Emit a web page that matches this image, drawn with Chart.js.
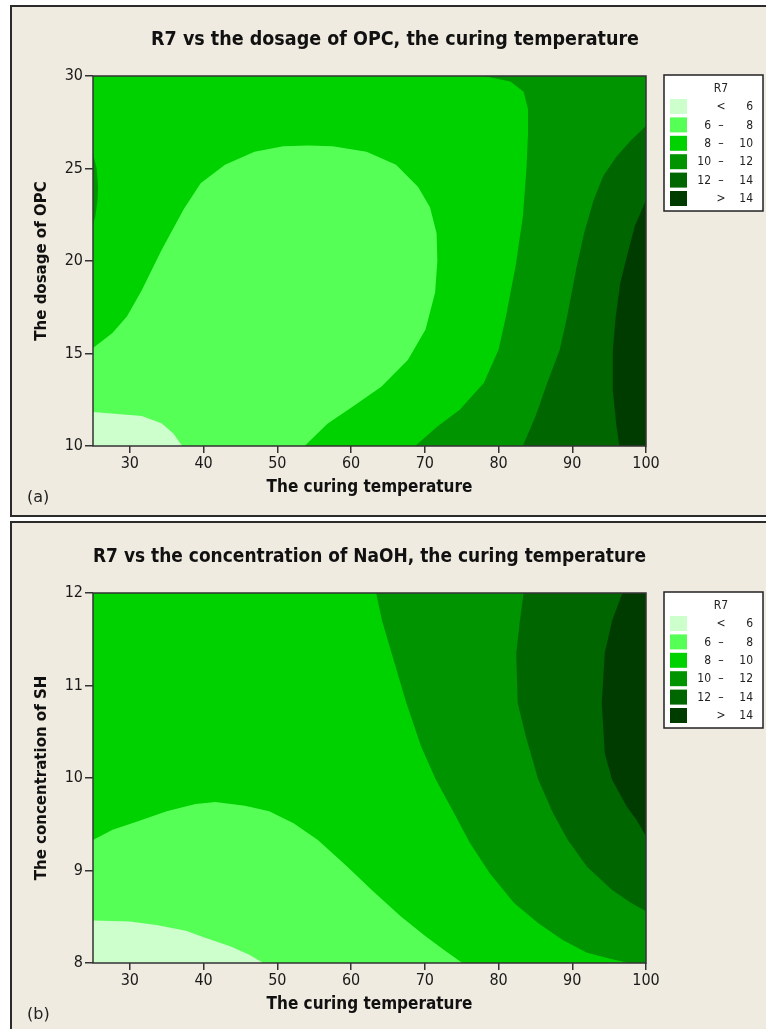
<!DOCTYPE html>
<html>
<head>
<meta charset="utf-8">
<script src="https://cdn.jsdelivr.net/npm/chart.js@4.4.0/dist/chart.umd.min.js"></script>
<style>
  html, body { margin: 0; padding: 0; background: #fff; width: 766px; height: 1029px; overflow: hidden; }
  .panel { position: absolute; left: 10px; width: 800px; background: #f0ebe0; border: 2px solid #2b2b2b; box-sizing: border-box; }
  #panelA { top: 5px; height: 512px; }
  #panelB { top: 521px; height: 530px; }
  canvas { position: absolute; left: 0; }
</style>
</head>
<body>
<div class="panel" id="panelA"></div>
<div class="panel" id="panelB"></div>
<canvas id="chartA" width="790" height="517" style="top:0"></canvas>
<canvas id="chartB" width="766" height="517" style="top:517px"></canvas>
<script>
// axes
const xTicks = [30, 40, 50, 60, 70, 80, 90, 100];
const xRange = [25, 100];
const yTicksA = [10, 15, 20, 25, 30];
const yRangeA = [10, 30];
const yTicksB = [8, 9, 10, 11, 12];
const yRangeB = [8, 12];

// legend levels (R7)
const levelColors = ['#ccffcc', '#55ff55', '#00d200', '#009400', '#006600', '#003c00'];
const levelLow = ['', '6', '8', '10', '12', ''];
const levelSign = ['<', '–', '–', '–', '–', '>'];
const levelHigh = ['6', '8', '10', '12', '14', '14'];

// (a) contour regions: [curing temperature, dosage of OPC]
const opcBelow6 = [[25, 10], [25, 11.84], [30, 11.68], [31.6, 11.62], [34.3, 11.23], [35.9, 10.68], [37.1, 10]];
const opc6to8 = [[25, 10], [25, 15.3], [27.6, 16.1], [29.6, 17.0], [31.6, 18.4], [34.3, 20.6], [37.3, 22.8],
  [39.6, 24.2], [42.9, 25.2], [46.9, 25.9], [50.8, 26.2], [54.2, 26.25], [57.5, 26.2], [62.1, 25.9],
  [66.1, 25.2], [69.1, 24.0], [70.7, 22.9], [71.6, 21.5], [71.7, 20.0], [71.4, 18.3], [70.1, 16.3],
  [67.7, 14.65], [64.1, 13.2], [60.1, 12.1], [56.8, 11.2], [53.7, 10]];
const opc10to12 = [[78, 30], [81.6, 29.7], [83.4, 29.15], [84, 28.2], [84, 26.9], [83.8, 25.1], [83.3, 22.4],
  [82.3, 19.7], [81, 17], [80, 15.2], [78, 13.4], [74.7, 11.95], [71.7, 11.05], [68.7, 10], [100, 10], [100, 30]];
const opc10to12Edge = [[25, 25.8], [25.5, 25.0], [25.7, 24.0], [25.6, 23.2], [25.3, 22.4], [25, 22]];
const opc12to14 = [[100, 27.3], [97.9, 26.5], [95.9, 25.6], [94.2, 24.6], [92.9, 23.3], [91.6, 21.5], [90.6, 19.7],
  [89.3, 17], [88.3, 15.2], [86.6, 13.4], [85, 11.6], [83.3, 10], [100, 10]];
const opcOver14 = [[100, 23.3], [98.5, 21.9], [97.5, 20.4], [96.5, 18.8], [95.9, 17], [95.5, 15.2], [95.5, 13],
  [96, 11.05], [96.4, 10], [100, 10]];

// (b) contour regions: [curing temperature, concentration of SH]
const shBelow6 = [[25, 8], [25, 8.46], [30, 8.45], [33.6, 8.41], [37.6, 8.35], [40.3, 8.27], [43.6, 8.18],
  [46.2, 8.09], [48.1, 8]];
const sh6to8 = [[25, 8], [25, 9.33], [27.65, 9.44], [31, 9.53], [35, 9.64], [38.9, 9.72], [41.6, 9.74],
  [45.6, 9.70], [48.9, 9.64], [52.2, 9.51], [55.5, 9.33], [59.5, 9.04], [62.8, 8.79], [66.8, 8.5],
  [70.1, 8.29], [72.8, 8.13], [75.1, 8]];
const sh10to12 = [[63.4, 12], [64.2, 11.7], [65.5, 11.35], [67.5, 10.81], [69.5, 10.34], [71.5, 9.98],
  [73.5, 9.69], [76.1, 9.3], [78.8, 8.97], [82.1, 8.65], [85.4, 8.43], [88.7, 8.25], [92, 8.11],
  [95.4, 8.04], [97.7, 8], [100, 8], [100, 12]];
const sh12to14 = [[83.4, 12], [82.9, 11.7], [82.4, 11.35], [82.6, 10.81], [83.7, 10.45], [85.4, 9.98],
  [87.4, 9.62], [89.4, 9.33], [92, 9.04], [95.4, 8.79], [98, 8.65], [100, 8.56], [100, 12]];
const shOver14 = [[96.8, 12], [95.4, 11.7], [94.4, 11.35], [94, 10.81], [94.4, 10.27], [95.4, 9.98],
  [97.4, 9.69], [98.7, 9.55], [100, 9.37], [100, 12]];

const condensed = "'DejaVu Sans Condensed', 'DejaVu Sans', sans-serif";
const wide = "'DejaVu Sans', sans-serif";

// fills each dataset as a closed polygon, using the points the scales placed
const contourFill = {
  id: 'contourFill',
  beforeDatasetsDraw(chart) {
    const { ctx, chartArea } = chart;
    ctx.save();
    ctx.beginPath();
    ctx.rect(chartArea.left, chartArea.top, chartArea.right - chartArea.left, chartArea.bottom - chartArea.top);
    ctx.clip();
    chart.data.datasets.forEach((ds, i) => {
      const pts = chart.getDatasetMeta(i).data;
      ctx.beginPath();
      pts.forEach((p, j) => j ? ctx.lineTo(p.x, p.y) : ctx.moveTo(p.x, p.y));
      ctx.closePath();
      ctx.fillStyle = ds.backgroundColor;
      ctx.fill();
    });
    ctx.restore();
  }
};

// plot frame, R7 legend box and panel tag
const decorations = {
  id: 'decorations',
  afterDraw(chart, args, opts) {
    const { ctx, chartArea: a } = chart;
    ctx.save();
    ctx.strokeStyle = '#333';
    ctx.lineWidth = 1.5;
    ctx.strokeRect(a.left, a.top, a.right - a.left, a.bottom - a.top);

    const left = a.right + 18, top = a.top - 1;
    ctx.fillStyle = '#fff';
    ctx.fillRect(left, top, 99, 136);
    ctx.strokeStyle = '#222';
    ctx.lineWidth = 1.5;
    ctx.strokeRect(left, top, 99, 136);
    ctx.fillStyle = '#222';
    ctx.font = '12px ' + condensed;
    ctx.textBaseline = 'middle';
    ctx.textAlign = 'center';
    ctx.fillText('R7', left + 57, top + 14);
    levelColors.forEach((c, i) => {
      const y0 = top + 24 + i * 18.4;
      ctx.fillStyle = c;
      ctx.fillRect(left + 6, y0, 17, 15);
      ctx.fillStyle = '#222';
      const yc = y0 + 8;
      ctx.textAlign = 'right';
      ctx.fillText(levelLow[i], left + 47, yc);
      ctx.fillText(levelHigh[i], left + 89, yc);
      ctx.textAlign = 'center';
      ctx.fillText(levelSign[i], left + 57, yc);
    });

    ctx.font = '16px ' + wide;
    ctx.textAlign = 'left';
    ctx.fillText(opts.tag, 27, 498);
    ctx.restore();
  }
};

function region(label, pts, color) {
  return {
    label: label,
    data: pts.map(([x, y]) => ({ x, y })),
    yAxisID: 'y',
    backgroundColor: color,
    borderColor: 'transparent',
    pointRadius: 0,
    showLine: false
  };
}

function makeChart(id, cfg) {
  const full = [[xRange[0], cfg.yRange[0]], [xRange[0], cfg.yRange[1]], [xRange[1], cfg.yRange[1]], [xRange[1], cfg.yRange[0]]];
  const datasets = [region('8 – 10', full, levelColors[2])].concat(
    cfg.regions.map(r => region(r[0], r[1], levelColors[r[2]]))
  );
  return new Chart(document.getElementById(id), {
    type: 'line',
    data: { datasets: datasets },
    options: {
      responsive: false,
      animation: false,
      events: [],
      layout: { padding: 0 },
      plugins: {
        legend: { display: false },
        tooltip: { enabled: false },
        title: {
          display: true,
          text: cfg.title,
          fullSize: cfg.fullSize,
          color: '#111',
          font: { family: condensed, size: 19.5, weight: 'bold' },
          padding: { top: 28.3, bottom: 24.3 }
        },
        decorations: { tag: cfg.tag }
      },
      scales: {
        x: {
          type: 'linear',
          min: xRange[0],
          max: xRange[1],
          afterBuildTicks: s => { s.ticks = xTicks.map(v => ({ value: v })); },
          afterFit: s => { s.height = 71; },
          grid: { drawOnChartArea: false, drawTicks: true, tickLength: 7, color: '#333', lineWidth: 1.5 },
          border: { display: false },
          ticks: { color: '#1a1a1a', padding: 1, maxRotation: 0, font: { family: condensed, size: 16 } },
          title: {
            display: true,
            text: 'The curing temperature',
            color: '#111',
            font: { family: condensed, size: 17, weight: 'bold' },
            padding: { top: 0, bottom: 19.5 }
          }
        },
        y: {
          type: 'linear',
          position: 'left',
          min: cfg.yRange[0],
          max: cfg.yRange[1],
          afterBuildTicks: s => { s.ticks = cfg.yTicks.map(v => ({ value: v })); },
          afterFit: s => { s.width = 93; },
          grid: { drawOnChartArea: false, drawTicks: true, tickLength: 8, color: '#333', lineWidth: 1.5 },
          border: { display: false },
          ticks: { color: '#1a1a1a', padding: 2, font: { family: condensed, size: 16 } },
          title: {
            display: true,
            text: cfg.yTitle,
            color: '#111',
            font: { family: wide, size: 15, weight: 'bold' },
            padding: { top: 33, bottom: 0 }
          }
        },
        // empty right-hand axis that keeps room for the R7 legend
        legendSpace: {
          type: 'linear',
          position: 'right',
          axis: 'y',
          ticks: { display: false },
          grid: { display: false },
          border: { display: false },
          afterFit: s => { s.width = cfg.legendSpace; }
        }
      }
    },
    plugins: [contourFill, decorations]
  });
}

makeChart('chartA', {
  title: 'R7 vs the dosage of OPC, the curing temperature',
  yTitle: 'The dosage of OPC',
  tag: '(a)',
  fullSize: true,
  legendSpace: 144,
  yRange: yRangeA,
  yTicks: yTicksA,
  regions: [
    ['6 – 8', opc6to8, 1],
    ['< 6', opcBelow6, 0],
    ['10 – 12', opc10to12, 3],
    ['10 – 12', opc10to12Edge, 3],
    ['12 – 14', opc12to14, 4],
    ['> 14', opcOver14, 5]
  ]
});

makeChart('chartB', {
  title: 'R7 vs the concentration of NaOH, the curing temperature',
  yTitle: 'The concentration of SH',
  tag: '(b)',
  fullSize: false,
  legendSpace: 120,
  yRange: yRangeB,
  yTicks: yTicksB,
  regions: [
    ['6 – 8', sh6to8, 1],
    ['< 6', shBelow6, 0],
    ['10 – 12', sh10to12, 3],
    ['12 – 14', sh12to14, 4],
    ['> 14', shOver14, 5]
  ]
});
</script>
</body>
</html>
